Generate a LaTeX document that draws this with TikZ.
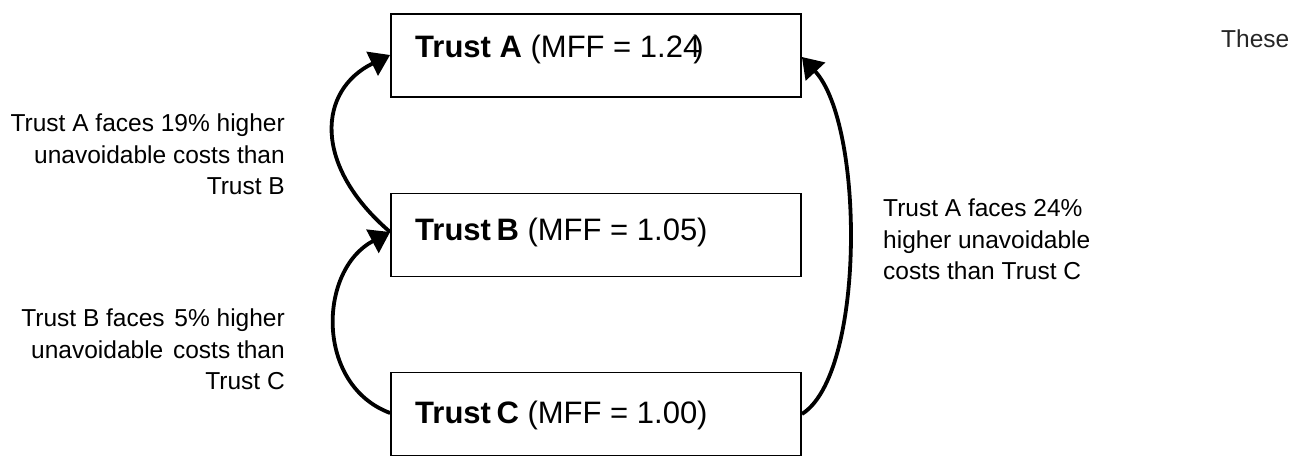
\documentclass[tikz,border=0pt]{standalone}
\usepackage{fontspec}
\setmainfont{Liberation Sans}
\usetikzlibrary{arrows.meta}
\begin{document}
\begin{tikzpicture}[x=1pt,y=1pt,
  trustbox/.style={draw=black,line width=1.8pt,minimum width=410pt,minimum height=83pt,inner sep=0pt},
  boxlabel/.style={anchor=base west,inner sep=0pt,font=\fontsize{31}{37}\selectfont},
  sidetext/.style={inner sep=0pt,font=\fontsize{24.5}{31.5}\selectfont},
  curvearrow/.style={line width=3.8pt,-{Triangle[length=20pt,width=26pt]}}]
\useasboundingbox (0,0) rectangle (1300,455);
% boxes
\node[trustbox] (A) at (596,399.5) {};
\node[trustbox] (B) at (596,220) {};
\node[trustbox] (C) at (596,41) {};
% box labels
\node[boxlabel] (la) at (415,397) {\textbf{Trust A} (MFF = 1.24\kern-0.22em)};
\node[boxlabel] (lb) at (415,214) {\textbf{Trust\kern0.18em B} (MFF = 1.05)};
\node[boxlabel] (lc) at (415,32) {\textbf{Trust\kern0.18em C} (MFF = 1.00)};
% side texts
\node[sidetext,anchor=north east,align=right] (t1) at (285,341)
  {Trust A faces 19\% higher\\unavoidable costs than\\Trust B};
\node[sidetext,anchor=north east,align=right] (t2) at (285,146)
  {Trust B faces \kern0.12em5\% higher\\unavoidable \kern0.12emcosts than\\Trust C};
\node[sidetext,anchor=north west,align=left] (t3) at (883,256)
  {Trust A faces 24\%\\higher unavoidable\\costs than Trust C};
\node[sidetext,anchor=base west,text=black!85] (these) at (1221,407) {These};
% connector points
\coordinate (bstart) at ([yshift=3pt]B.west);
\coordinate (aleft) at ([yshift=0.5pt]A.west);
\coordinate (cleft) at ([yshift=1pt]C.west);
\coordinate (cright) at (C.east);
\coordinate (aright) at ([yshift=-1.5pt]A.east);
% connectors
\draw[curvearrow] (bstart) .. controls (312,290) and (318,365) .. (aleft);
\draw[curvearrow] (cleft) .. controls (315,70) and (318,185) .. (bstart);
\draw[curvearrow] (cright) .. controls (865,80) and (865,330) .. (aright);
\end{tikzpicture}
\end{document}
